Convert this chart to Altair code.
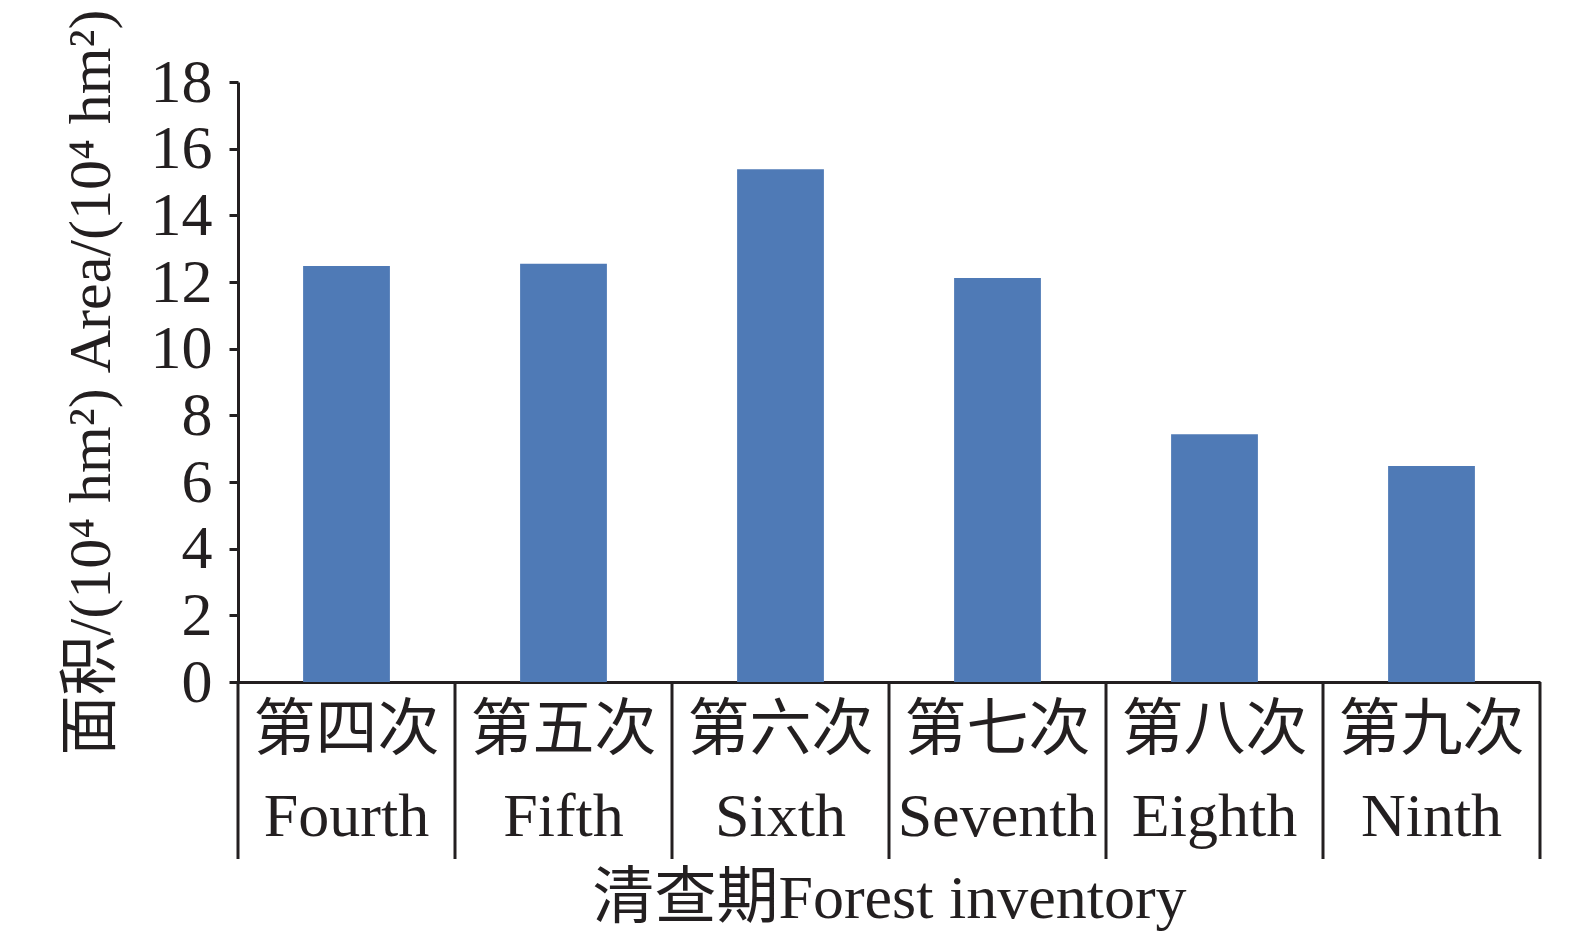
import altair as alt
import pandas as pd

categories = ["第四次\nFourth", "第五次\nFifth", "第六次\nSixth",
              "第七次\nSeventh", "第八次\nEighth", "第九次\nNinth"]
areas = [12.48, 12.55, 15.38, 12.12, 7.43, 6.48]
y_ticks = [0, 2, 4, 6, 8, 10, 12, 14, 16, 18]
# category boundaries (edges between inventory periods) for the separator lines
edges = [0, 1, 2, 3, 4, 5, 6]

df = pd.DataFrame({"cat": categories, "area": areas})
edf = pd.DataFrame({"edge": edges})

INK = "#231f20"
FONT = "Liberation Serif, Times New Roman, Noto Sans CJK SC"

bars = alt.Chart(df).mark_bar(color="#4f7ab6").encode(
    x=alt.X(
        "cat:N",
        sort=categories,
        scale=alt.Scale(paddingInner=0.6, paddingOuter=0.3),
        axis=alt.Axis(
            title="清查期Forest inventory",
            titleFont=FONT, titleFontSize=62, titleFontWeight="normal",
            titleColor=INK, titlePadding=21,
            labelExpr="split(datum.label, '\\n')",
            labelFont=FONT, labelFontSize=62, labelColor=INK,
            labelLineHeight=86, labelPadding=18, labelAngle=0,
            labelBaseline="top", labelOverlap=False, labelLimit=0,
            ticks=False,
            domainColor=INK, domainWidth=3,
        ),
    ),
    y=alt.Y(
        "area:Q",
        scale=alt.Scale(domain=[0, 18], nice=False),
        axis=alt.Axis(
            title="面积/(10⁴ hm²) Area/(10⁴ hm²)",
            titleFont=FONT, titleFontSize=60, titleFontWeight="normal",
            titleColor=INK, titlePadding=28,
            values=y_ticks,
            labelFont=FONT, labelFontSize=62, labelColor=INK,
            labelPadding=17, labelFlush=False, labelOverlap=False,
            tickSize=9, tickWidth=3, tickColor=INK,
            domainColor=INK, domainWidth=3, grid=False,
        ),
    ),
)

separators = alt.Chart(edf).mark_rule(color=INK, strokeWidth=3).encode(
    x=alt.X("edge:Q", scale=alt.Scale(domain=[0, 6], nice=False, zero=False), axis=None),
    y=alt.value(600),
    y2=alt.value(777),
)

chart = alt.layer(bars, separators).resolve_scale(x="independent").properties(
    width=1302,
    height=600,
    autosize=alt.AutoSizeParams(type="none"),
    padding={"left": 230, "top": 74, "right": 20, "bottom": 250},
).configure_view(stroke=None)

chart.save("out.html", embed_options={"renderer": "svg", "actions": False})
